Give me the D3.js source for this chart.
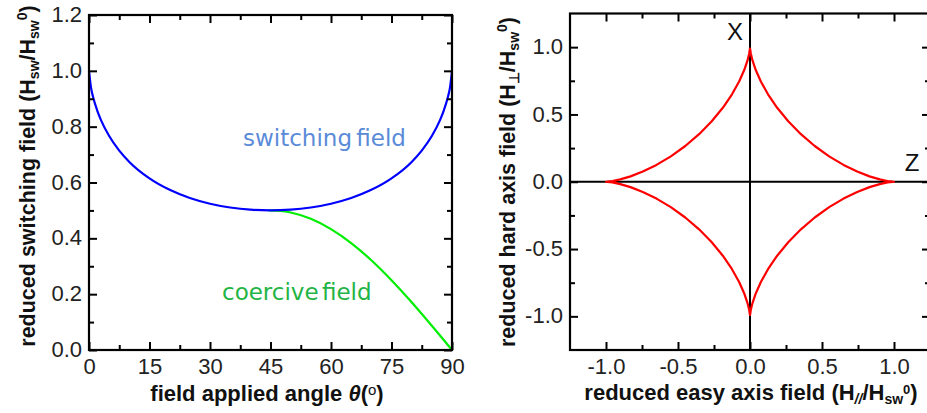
<!DOCTYPE html>
<html><head><meta charset="utf-8">
<script src="https://cdn.jsdelivr.net/npm/d3@7"></script>
<style>
body{margin:0;background:#fff;}
svg{display:block;font-family:"Liberation Sans",Arial,sans-serif;}
</style></head>
<body><svg id="c" width="927" height="413"></svg>
<script>
// ---- data: left panel ----
const swAngle = [0,0.5,1,2,3,5,7.5,10,15,20,25,30,35,40,45,50,55,60,65,70,75,80,82.5,85,87,88,89,89.5,90];
const swField = [1,0.9396,0.907,0.8593,0.8226,0.7664,0.7142,0.6737,0.6147,0.5737,0.5445,0.524,0.5104,0.5025,0.5,0.5025,0.5104,0.524,0.5445,0.5737,0.6147,0.6737,0.7142,0.7664,0.8226,0.8593,0.907,0.9396,1];
const coAngle = [44.5,47.5,50,55,60,65,70,75,80,85,90];
const coField = [0.5,0.4981,0.4924,0.4698,0.433,0.383,0.3214,0.25,0.171,0.0868,0];
const leftXTicks = [0,15,30,45,60,75,90];
const leftYTicks = [0.0,0.2,0.4,0.6,0.8,1.0,1.2];
// ---- data: right panel (astroid, first quadrant; mirrored to the others) ----
const astPar  = [1,0.9886,0.9551,0.9012,0.8298,0.7444,0.6495,0.5497,0.4495,0.3536,0.2656,0.1887,0.125,0.0755,0.04,0.0173,0.0052,0.0007,0];
const astPerp = [0,0.0007,0.0052,0.0173,0.04,0.0755,0.125,0.1887,0.2656,0.3536,0.4495,0.5497,0.6495,0.7444,0.8298,0.9012,0.9551,0.9886,0.985];
const rightTicks = [-1.0,-0.5,0.0,0.5,1.0];

const svg = d3.select("#c");
const fmt1 = d => d.toFixed(1);

function frameAxes(g, x, y, xt, yt, xMinor, yMinor, xf, yf){
  const [x0,x1] = x.range(), [y0,y1] = y.range();
  const W = x1-x0, H = y0-y1;
  const mk = (axis, tr, vals, size, fmt, pad) => {
    const a = g.append("g").attr("transform", tr)
      .call(axis.tickValues(vals).tickSize(size).tickSizeOuter(0).tickPadding(pad||4).tickFormat(fmt));
    a.select(".domain").remove();
    a.selectAll("line").attr("stroke","#000").attr("stroke-width",2);
    a.selectAll("text").attr("fill","#222").style("font-size","22px");
    return a;
  };
  mk(d3.axisBottom(x), `translate(0,${y0})`, xt, -8, xf, 5).selectAll("text").attr("dy","0.85em");
  mk(d3.axisBottom(x), `translate(0,${y0})`, xMinor, -5, "");
  mk(d3.axisTop(x), `translate(0,${y1})`, xt, -8, "");
  mk(d3.axisTop(x), `translate(0,${y1})`, xMinor, -5, "");
  mk(d3.axisLeft(y), `translate(${x0},0)`, yt, -8, yf, 7).selectAll("text").attr("dy","0.3em");
  mk(d3.axisLeft(y), `translate(${x0},0)`, yMinor, -5, "");
  mk(d3.axisRight(y), `translate(${x1},0)`, yt, -8, "");
  mk(d3.axisRight(y), `translate(${x1},0)`, yMinor, -5, "");
  g.append("rect").attr("x",x0).attr("y",y1).attr("width",W).attr("height",H)
    .attr("fill","none").attr("stroke","#000").attr("stroke-width",2.2);
}

// ================= LEFT PANEL =================
const xL = d3.scaleLinear().domain([0,90]).range([89,452]);
const yL = d3.scaleLinear().domain([0,1.2]).range([350,15]);
const gL = svg.append("g");
const line = (xs,ys)=>d3.line().x(d=>xs(d[0])).y(d=>ys(d[1])).curve(d3.curveMonotoneX);

gL.append("path").datum(coAngle.map((a,i)=>[a,coField[i]]))
  .attr("d", line(xL,yL)).attr("fill","none").attr("stroke","#00ee00").attr("stroke-width",2.2);
gL.append("path").datum(swAngle.map((a,i)=>[a,swField[i]]))
  .attr("d", line(xL,yL)).attr("fill","none").attr("stroke","#0000ff").attr("stroke-width",2.2);

frameAxes(gL, xL, yL, leftXTicks, leftYTicks,
  d3.range(7.5,90,15), d3.range(0.1,1.2,0.2), d3.format("d"), fmt1);

gL.append("text").attr("x",243).attr("y",146).attr("fill","#5a8bd8")
  .style("font-family","'DejaVu Sans',sans-serif").style("font-size","23px").style("word-spacing","-3px")
  .text("switching field");
gL.append("text").attr("x",222).attr("y",300).attr("fill","#22b444")
  .style("font-family","'DejaVu Sans',sans-serif").style("font-size","23px").style("word-spacing","-4px")
  .text("coercive field");

// left y title
const ytL = gL.append("text").attr("transform","translate(35,176) rotate(-90)")
  .attr("text-anchor","middle").attr("fill","#111").style("font-size","21.5px").style("font-weight","bold");
ytL.append("tspan").text("reduced switching field (H");
ytL.append("tspan").attr("baseline-shift","-25%").style("font-size","14px").text("sw");
ytL.append("tspan").text("/H");
ytL.append("tspan").attr("baseline-shift","-25%").style("font-size","14px").text("sw");
ytL.append("tspan").attr("baseline-shift","60%").style("font-size","14px").text("0");
ytL.append("tspan").text(")");

// left x title
const xtL = gL.append("text").attr("x",267).attr("y",401).attr("text-anchor","middle")
  .attr("fill","#111").style("font-size","22px").style("font-weight","bold");
xtL.append("tspan").text("field applied angle ");
xtL.append("tspan").style("font-style","italic").text("θ");
xtL.append("tspan").text("(");
xtL.append("tspan").attr("baseline-shift","40%").style("font-size","15px").style("font-weight","normal").text("o");
xtL.append("tspan").text(")");

// ================= RIGHT PANEL =================
const xR = d3.scaleLinear().domain([-1.25,1.25]).range([570,930]);
const yR = d3.scaleLinear().domain([-1.25,1.25]).range([350,13.5]);
const gR = svg.append("g");

gR.append("line").attr("x1",xR(-1.25)).attr("x2",xR(1.25)).attr("y1",yR(0)).attr("y2",yR(0))
  .attr("stroke","#000").attr("stroke-width",2);
gR.append("line").attr("x1",xR(0)).attr("x2",xR(0)).attr("y1",yR(-1.25)).attr("y2",yR(1.25))
  .attr("stroke","#000").attr("stroke-width",2);

const q1 = astPar.map((v,i)=>[v, astPerp[i]]);
const ast = [
  ...q1,
  ...q1.slice().reverse().map(p=>[-p[0], p[1]]),
  ...q1.map(p=>[-p[0], -p[1]]),
  ...q1.slice().reverse().map(p=>[p[0], -p[1]])
];
gR.append("path").datum(ast)
  .attr("d", d3.line().x(d=>xR(d[0])).y(d=>yR(d[1])).curve(d3.curveLinearClosed))
  .attr("fill","none").attr("stroke","#ff0000").attr("stroke-width",2.2).attr("stroke-linejoin","round");

frameAxes(gR, xR, yR, rightTicks, rightTicks, [-0.75,-0.25,0.25,0.75], [-0.75,-0.25,0.25,0.75], fmt1, fmt1);

gR.append("text").attr("x",735).attr("y",40).attr("text-anchor","middle").attr("fill","#111")
  .style("font-size","24px").text("X");
gR.append("text").attr("x",912).attr("y",171).attr("text-anchor","middle").attr("fill","#111")
  .style("font-size","24px").text("Z");

// right y title
const ytR = gR.append("text").attr("transform","translate(515,182) rotate(-90)")
  .attr("text-anchor","middle").attr("fill","#111").style("font-size","21.5px").style("font-weight","bold");
ytR.append("tspan").text("reduced hard axis field (H");
ytR.append("tspan").attr("baseline-shift","-25%").style("font-size","14px").text("⊥");
ytR.append("tspan").text("/H");
ytR.append("tspan").attr("baseline-shift","-25%").style("font-size","14px").text("sw");
ytR.append("tspan").attr("baseline-shift","60%").style("font-size","14px").text("0");
ytR.append("tspan").text(")");

// right x title
const xtR = gR.append("text").attr("x",751).attr("y",400).attr("text-anchor","middle")
  .attr("fill","#111").style("font-size","22px").style("font-weight","bold");
xtR.append("tspan").text("reduced easy axis field (H");
xtR.append("tspan").attr("baseline-shift","-25%").style("font-size","14px").style("font-style","italic").text("//");
xtR.append("tspan").text("/H");
xtR.append("tspan").attr("baseline-shift","-25%").style("font-size","14px").text("sw");
xtR.append("tspan").attr("baseline-shift","45%").style("font-size","13px").text("0");
xtR.append("tspan").text(")");
</script>
</body></html>
